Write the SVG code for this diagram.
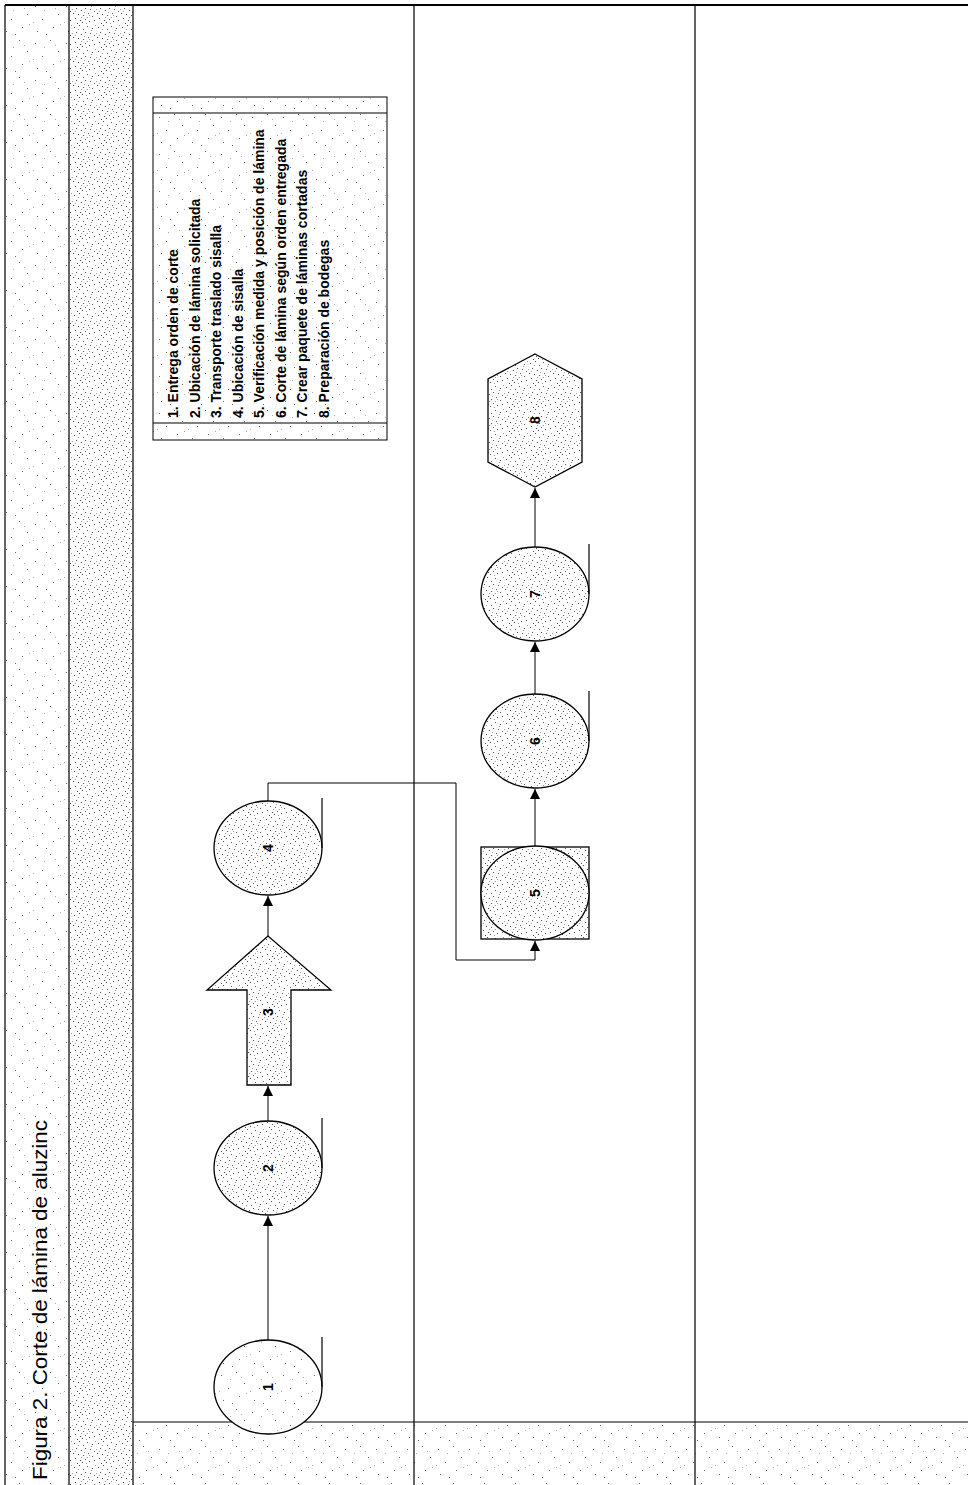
<svg xmlns="http://www.w3.org/2000/svg" width="968" height="1485" viewBox="0 0 968 1485">
<defs>
<style>
.ln{stroke:#000;stroke-width:1.2;fill:none}
.node{stroke:#000;stroke-width:1.3}
.lbl{font-family:"Liberation Sans",Arial,sans-serif;font-size:14px;font-weight:bold;fill:#000;text-anchor:middle;dominant-baseline:central}
.leg{font-family:"Liberation Sans",Arial,sans-serif;font-size:14px;font-weight:bold;fill:#000}
.title{font-family:"Liberation Sans",Arial,sans-serif;font-size:21px;fill:#000}
.conn{stroke:#000;stroke-width:1;fill:none;marker-end:url(#ah)}
</style>
<pattern id="dense" width="24" height="24" patternUnits="userSpaceOnUse">
<rect width="24" height="24" fill="#fff"/>
<path fill="#555" d="M2 3h1v1h-1zM7 1h1v1h-1zM11 5h1v1h-1zM15 2h1v1h-1zM20 4h1v1h-1zM4 8h1v1h-1zM9 10h1v1h-1zM13 8h1v1h-1zM18 9h1v1h-1zM22 11h1v1h-1zM1 13h1v1h-1zM6 14h1v1h-1zM11 15h1v1h-1zM16 13h1v1h-1zM20 16h1v1h-1zM3 18h1v1h-1zM8 20h1v1h-1zM13 19h1v1h-1zM17 21h1v1h-1zM22 20h1v1h-1zM5 23h1v1h-1zM10 22h1v1h-1z"/>
<path fill="#999" d="M15 17h1v1h-1zM19 6h1v1h-1zM0 9h1v1h-1zM12 12h1v1h-1zM23 1h1v1h-1zM6 5h1v1h-1zM17 15h1v1h-1zM9 17h1v1h-1zM14 23h1v1h-1zM3 11h1v1h-1z"/>
</pattern>
<pattern id="light" width="31" height="37" patternUnits="userSpaceOnUse">
<rect width="31" height="37" fill="#fff"/>
<path fill="#666" d="M4 6h1v1h-1zM19 3h1v1h-1zM27 14h1v1h-1zM11 19h1v1h-1zM22 27h1v1h-1zM6 31h1v1h-1zM15 34h1v1h-1z"/>
<path fill="#aaa" d="M13 10h1v1h-1zM29 24h1v1h-1zM2 22h1v1h-1zM24 8h1v1h-1z"/>
</pattern>
<marker id="ah" viewBox="0 0 10 10" refX="10" refY="5" markerWidth="10" markerHeight="10" orient="auto" markerUnits="userSpaceOnUse">
<path d="M0,0 L10,5 L0,10 z" fill="#000"/>
</marker>
</defs>
<rect width="968" height="1485" fill="#fff"/>

<g id="frame">
<rect x="5" y="5" width="64" height="1480" fill="url(#light)"/>
<rect x="69" y="5" width="64" height="1480" fill="url(#dense)"/>
<rect x="133" y="1422" width="835" height="63" fill="url(#light)"/>
<path class="ln" d="M5 5H968M5 5V1485M69 5V1485M133 5V1485M414 5V1485M695 5V1485M133 1422H968"/>
<path d="M5 5H968" stroke="#000" stroke-width="2" fill="none"/>
</g>

<g id="title">
<text class="title" transform="translate(47,1480) rotate(-90)" textLength="360" lengthAdjust="spacingAndGlyphs">Figura 2. Corte de lámina de aluzinc</text>
</g>

<g id="legend">
<rect x="153" y="97" width="234" height="343" fill="url(#light)" stroke="#000" stroke-width="1"/>
<path class="ln" d="M153 113H387M153 423H387" stroke-width="1"/>
<text class="leg" transform="translate(178,418) rotate(-90)">1. Entrega orden de corte</text>
<text class="leg" transform="translate(199.5,418) rotate(-90)">2. Ubicación de lámina solicitada</text>
<text class="leg" transform="translate(221,418) rotate(-90)">3. Transporte traslado sisalla</text>
<text class="leg" transform="translate(242.5,418) rotate(-90)">4. Ubicación de sisalla</text>
<text class="leg" transform="translate(264,418) rotate(-90)">5. Verificación medida y posición de lámina</text>
<text class="leg" transform="translate(285.5,418) rotate(-90)">6. Corte de lámina según orden entregada</text>
<text class="leg" transform="translate(307,418) rotate(-90)">7. Crear paquete de láminas cortadas</text>
<text class="leg" transform="translate(328.5,418) rotate(-90)">8. Preparación de bodegas</text>
</g>

<g id="connectors">
<path class="conn" d="M268 1340V1216"/>
<path class="conn" d="M268 1121V1086"/>
<path class="conn" d="M268 936V896"/>
<path class="conn" d="M268 801V783H456V960H535V941"/>
<path class="conn" d="M535 846V789"/>
<path class="conn" d="M535 694V642"/>
<path class="conn" d="M535 547V488"/>
</g>

<g id="n1">
<ellipse class="node" cx="268" cy="1387" rx="54" ry="47" fill="url(#light)"/>
<path class="ln" d="M322 1337V1387"/>
<text class="lbl" transform="translate(268,1387) rotate(-90)">1</text>
</g>
<g id="n2">
<ellipse class="node" cx="268" cy="1168" rx="54" ry="47" fill="url(#dense)"/>
<path class="ln" d="M322 1118V1168"/>
<text class="lbl" transform="translate(268,1168) rotate(-90)">2</text>
</g>
<g id="n3">
<path class="node" d="M247 1085V990H207L268 936L331 990H291V1085Z" fill="url(#dense)"/>
<text class="lbl" transform="translate(268,1012) rotate(-90)">3</text>
</g>
<g id="n4">
<ellipse class="node" cx="268" cy="848" rx="54" ry="47" fill="url(#dense)"/>
<path class="ln" d="M322 798V848"/>
<text class="lbl" transform="translate(268,848) rotate(-90)">4</text>
</g>
<g id="n5">
<rect class="node" x="481" y="847" width="108" height="92" fill="url(#dense)"/>
<ellipse class="node" cx="535" cy="893" rx="54" ry="47" fill="url(#dense)"/>
<text class="lbl" transform="translate(535,893) rotate(-90)">5</text>
</g>
<g id="n6">
<ellipse class="node" cx="535" cy="741" rx="54" ry="47" fill="url(#dense)"/>
<path class="ln" d="M589 691V741"/>
<text class="lbl" transform="translate(535,741) rotate(-90)">6</text>
</g>
<g id="n7">
<ellipse class="node" cx="535" cy="594" rx="54" ry="47" fill="url(#dense)"/>
<path class="ln" d="M589 544V594"/>
<text class="lbl" transform="translate(535,594) rotate(-90)">7</text>
</g>
<g id="n8">
<path class="node" d="M535 354L582 379V462L535 487L488 462V379Z" fill="url(#dense)"/>
<text class="lbl" transform="translate(535,420) rotate(-90)">8</text>
</g>
</svg>
